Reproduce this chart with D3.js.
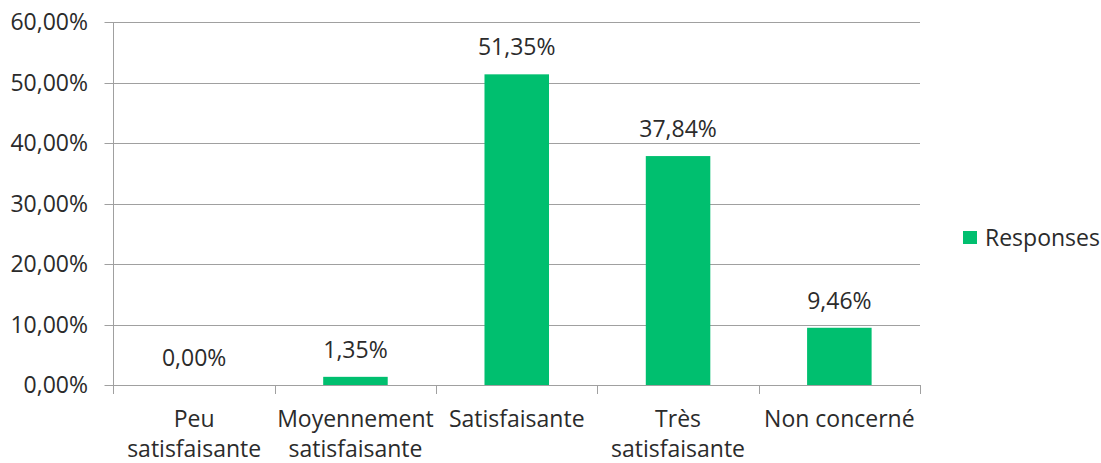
<!DOCTYPE html>
<html>
<head>
<meta charset="utf-8">
<script src="https://cdn.jsdelivr.net/npm/d3@7"></script>
<style>
  body { margin: 0; background: #fff; }
  text { font-family: "Open Sans", sans-serif; fill: #2b2b2b; }
</style>
</head>
<body>
<svg id="chart" width="1101" height="463"></svg>
<script>
// Data
var categories = ["Peu satisfaisante", "Moyennement satisfaisante", "Satisfaisante", "Très satisfaisante", "Non concerné"];
var labelLines = [["Peu", "satisfaisante"], ["Moyennement", "satisfaisante"], ["Satisfaisante"], ["Très", "satisfaisante"], ["Non concerné"]];
var values = [0.0, 1.35, 51.35, 37.84, 9.46]; // percent
var yTicks = [0, 10, 20, 30, 40, 50, 60];
var seriesName = "Responses";

// Layout (plotTop, not "top" -- window.top is read only)
var plotLeft = 113.5, plotRight = 920, plotTop = 22, plotBottom = 385;
var green = "#00bf6f";
var gridColor = "#a0a0a0";

var fr = d3.formatLocale({decimal: ",", thousands: " ", grouping: [3], currency: ["", " €"]});
var pct = fr.format(".2%");

var svg = d3.select("#chart");

var x = d3.scaleBand().domain(categories).range([plotLeft, plotRight]).paddingInner(0.6).paddingOuter(0.3);
var y = d3.scaleLinear().domain([0, 60]).range([plotBottom, plotTop]);

// gridlines + y tick marks
svg.append("g").selectAll("line").data(yTicks).enter().append("line")
    .attr("x1", plotLeft - 9)
    .attr("x2", plotRight)
    .attr("y1", function(d) { return Math.round(y(d)) + 0.5; })
    .attr("y2", function(d) { return Math.round(y(d)) + 0.5; })
    .attr("stroke", gridColor)
    .attr("stroke-width", 1);

// y labels
svg.append("g").selectAll("text").data(yTicks).enter().append("text")
    .attr("x", 88)
    .attr("y", function(d) { return y(d); })
    .attr("dy", "0.36em")
    .attr("text-anchor", "end")
    .attr("font-size", "23px")
    .text(function(d) { return pct(d / 100); });

// y axis line
svg.append("line")
    .attr("x1", plotLeft).attr("x2", plotLeft)
    .attr("y1", plotTop).attr("y2", plotBottom + 9)
    .attr("stroke", gridColor);

// category tick marks
var step = x.step();
var bounds = categories.map(function(c) { return x(c) - (step - x.bandwidth()) / 2; });
bounds.push(plotRight);
svg.append("g").selectAll("line").data(bounds).enter().append("line")
    .attr("x1", function(d) { return Math.round(d) + 0.5; })
    .attr("x2", function(d) { return Math.round(d) + 0.5; })
    .attr("y1", plotBottom)
    .attr("y2", plotBottom + 9)
    .attr("stroke", gridColor);

// bars
svg.append("g").selectAll("rect").data(values).enter().append("rect")
    .attr("x", function(d, i) { return x(categories[i]); })
    .attr("y", function(d) { return y(d); })
    .attr("width", x.bandwidth())
    .attr("height", function(d) { return y(0) - y(d); })
    .attr("fill", green);

// value labels
svg.append("g").selectAll("text").data(values).enter().append("text")
    .attr("x", function(d, i) { return x(categories[i]) + x.bandwidth() / 2; })
    .attr("y", function(d) { return y(d) - 19; })
    .attr("text-anchor", "middle")
    .attr("font-size", "23px")
    .text(function(d) { return pct(d / 100); });

// category labels
var cat = svg.append("g").selectAll("text").data(labelLines).enter().append("text")
    .attr("text-anchor", "middle")
    .attr("font-size", "23px")
    .attr("x", function(d, i) { return x(categories[i]) + x.bandwidth() / 2; })
    .attr("y", 427);
cat.selectAll("tspan").data(function(d) { return d; }).enter().append("tspan")
    .attr("x", function() { return d3.select(this.parentNode).attr("x"); })
    .attr("dy", function(d, i) { return i == 0 ? 0 : 30; })
    .text(function(d) { return d; });

// legend
svg.append("rect")
    .attr("x", 963).attr("y", 231)
    .attr("width", 14).attr("height", 13)
    .attr("fill", green);
svg.append("text")
    .attr("x", 985).attr("y", 246)
    .attr("font-size", "23px")
    .text(seriesName);
</script>
</body>
</html>
